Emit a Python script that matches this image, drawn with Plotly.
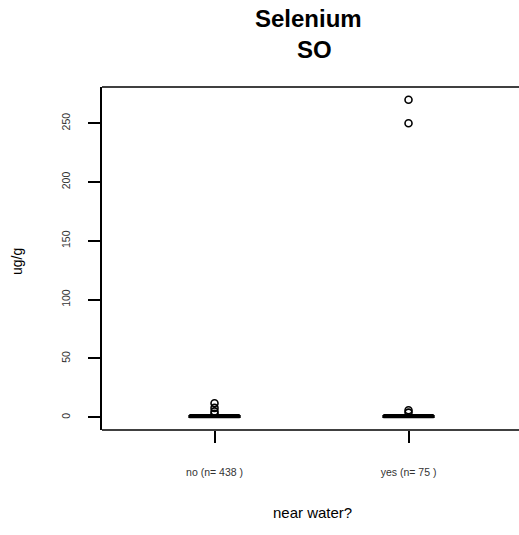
import plotly.graph_objects as go

groups = ["no (n= 438 )", "yes (n= 75 )"]
positions = [1, 2]
q1 = [0.3, 0.3]
median = [0.6, 0.6]
q3 = [1.0, 1.0]
lowerfence = [0.0, 0.0]
upperfence = [2.0, 2.0]
outliers_no = [3, 5, 8, 12]
outliers_yes = [4, 6, 250, 270]
yticks = [0, 50, 100, 150, 200, 250]

FONT = "Liberation Sans, Arial, sans-serif"
W, H = 519, 535
L, R, T, B = 102, 0, 87, 105
X_RIGHT = 0.42 + (521 - L) / 194  # R's plot region extends just past the window

fig = go.Figure()
for i in range(2):
    fig.add_trace(go.Box(
        x=[positions[i]], q1=[q1[i]], median=[median[i]], q3=[q3[i]],
        lowerfence=[lowerfence[i]], upperfence=[upperfence[i]],
        boxpoints=False, width=0.26, fillcolor="white",
        line=dict(color="black", width=2), whiskerwidth=1,
        showlegend=False, hoverinfo="skip"))

for pos, outs in zip(positions, [outliers_no, outliers_yes]):
    fig.add_trace(go.Scatter(
        x=[pos] * len(outs), y=outs, mode="markers",
        marker=dict(symbol="circle-open", size=7, color="black",
                    line=dict(width=1.6, color="black")),
        showlegend=False, hoverinfo="skip"))


def px_ann(text, x, y, size, angle=0):
    return dict(text=text, x=(x - L) / (W - L - R), y=(H - y - B) / (H - T - B),
                xref="paper", yref="paper", xanchor="center", yanchor="middle",
                showarrow=False, textangle=angle,
                font=dict(size=size, family=FONT, color="black"))


fig.update_layout(
    width=W, height=H,
    margin=dict(l=L, r=R, t=T, b=B),
    paper_bgcolor="white", plot_bgcolor="white",
    font=dict(family=FONT, color="black"),
    xaxis=dict(range=[0.42, 0.42 + (W - L - R) / 194], tickvals=positions, ticktext=groups,
               showgrid=False, zeroline=False, showline=False,
               ticks="outside", ticklen=12,
               tickwidth=1.5, tickcolor="black", tickfont=dict(size=10.5, color="#333"),
               ticklabelstandoff=20, automargin=False),
    yaxis=dict(range=[-10.8, 280.8], tickvals=yticks, ticktext=[str(v) for v in yticks],
               showgrid=False, zeroline=False, showline=True, linecolor="black",
               linewidth=1.5, mirror=False, ticks="outside", ticklen=12,
               tickwidth=1.5, tickcolor="black", tickangle=-90,
               tickfont=dict(size=10.5, color="#333"), ticklabelstandoff=14,
               automargin=False),
    shapes=[
        dict(type="line", xref="x", yref="paper", x0=0.42, x1=X_RIGHT, y0=0, y1=0,
             line=dict(color="black", width=1.5)),
        dict(type="line", xref="x", yref="paper", x0=0.42, x1=X_RIGHT, y0=1, y1=1,
             line=dict(color="black", width=1.5)),
    ],
    annotations=[
        px_ann("<b>Selenium</b>", 308, 19, 24),
        px_ann("<b>SO</b>", 314, 50, 24),
        px_ann("near water?", 312, 512, 15),
        px_ann("ug/g", 17, 262, 14, -90),
    ],
)

fig.write_html("out.html", config={"displayModeBar": False},
               post_script="document.body.style.margin='0';document.body.style.overflow='hidden';")
